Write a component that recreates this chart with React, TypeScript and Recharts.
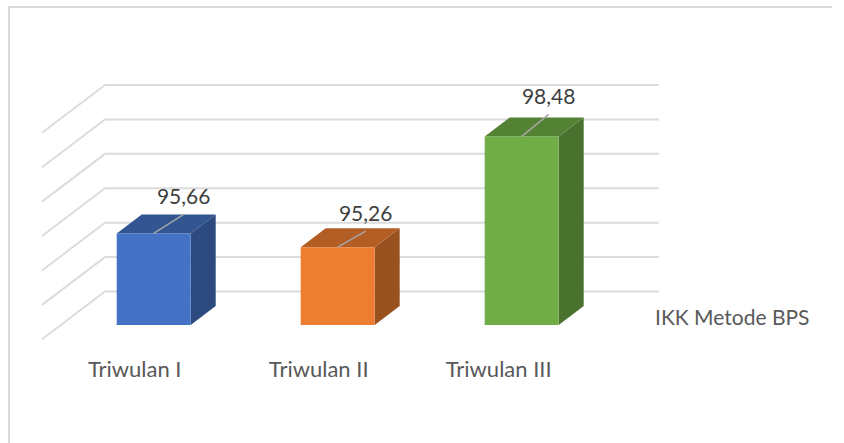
import React from "react";
import { BarChart, Bar, XAxis, YAxis, Legend, LabelList, ReferenceLine } from "recharts";

const categories = ["Triwulan I", "Triwulan II", "Triwulan III"];
const values = [95.66, 95.26, 98.48];
const gridTicks = [93, 94, 95, 96, 97, 98, 99];
const seriesName = "IKK Metode BPS";

const frontColors = ["#4472c4", "#ed7d31", "#70ad47"];
const topColors = ["#335693", "#b25e25", "#548235"];
const sideColors = ["#2c4a7f", "#9a5120", "#49722e"];
// leader line rise above the front top edge, per bar
const leaderEnds = [
  { dx: 30, dy: -19 },
  { dx: 28, dy: -16 },
  { dx: 27, dy: -22 },
];
// category labels sit left of their bars in the original
const tickShifts = [-19, -19, -23];

const data = categories.map((name, i) => ({ name, value: values[i] }));

const FONT = "Lato, 'Open Sans', sans-serif";
const DEPTH_X = 25;
const DEPTH_Y = 19;

// extruded box: front face, top face and right side
const Box3D = (props: any) => {
  const { x, y, width, height, index } = props;
  const r = x + width;
  const b = y + height;
  return (
    <g>
      <polygon
        points={`${r},${y} ${r + DEPTH_X},${y - DEPTH_Y} ${r + DEPTH_X},${b - DEPTH_Y} ${r},${b}`}
        fill={sideColors[index]}
      />
      <polygon
        points={`${x},${y} ${x + DEPTH_X},${y - DEPTH_Y} ${r + DEPTH_X},${y - DEPTH_Y} ${r},${y}`}
        fill={topColors[index]}
      />
      <rect x={x} y={y} width={width} height={height} fill={frontColors[index]} />
    </g>
  );
};

// floor-to-wall gridline: short diagonal on the left, then flat along the back wall
const WallLine = (props: any) => {
  const y = props.y1 ?? props.y;
  return (
    <path
      d={`M42,${y + 14.3} L105,${y - 33.5} L659,${y - 33.5}`}
      fill="none"
      stroke="#dcdcdc"
      strokeWidth={2}
    />
  );
};

const DataLabel = (props: any) => {
  const { x, y, width, value, index } = props;
  const cx = x + width / 2;
  const end = leaderEnds[index];
  return (
    <g>
      <line x1={cx} y1={y} x2={cx + end.dx} y2={y + end.dy} stroke="#a6a6a6" strokeWidth={1.5} />
      <text
        x={cx + end.dx}
        y={y + end.dy - 10}
        textAnchor="middle"
        fontFamily={FONT}
        fontSize={21}
        fill="#404040"
      >
        {value.toFixed(2).replace(".", ",")}
      </text>
    </g>
  );
};

const CategoryTick = ({ x, y, payload, index }: any) => (
  <text
    x={x + tickShifts[index]}
    y={y}
    dy="0.71em"
    textAnchor="middle"
    fontFamily={FONT}
    fontSize={22}
    fill="#595959"
  >
    {payload.value}
  </text>
);

const LegendText = ({ payload }: any) => (
  <span style={{ fontFamily: FONT, fontSize: 21, color: "#595959", whiteSpace: "nowrap" }}>
    {payload?.[0]?.value}
  </span>
);

export default function App() {
  return (
    <div style={{ position: "absolute", left: 0, top: 0, width: 844, height: 443, background: "#fff" }}>
      <div
        style={{
          position: "absolute",
          left: 8,
          top: 6,
          width: 824,
          height: 437,
          borderLeft: "2px solid #d9d9d9",
          borderTop: "2px solid #d9d9d9",
          boxSizing: "border-box",
        }}
      />
      <div style={{ position: "absolute", left: 0, top: 0 }}>
        <BarChart
          width={844}
          height={443}
          data={data}
          margin={{ top: 118.5, right: 230.3, bottom: 0, left: 61.7 }}
        >
          <XAxis
            dataKey="name"
            height={90}
            axisLine={false}
            tickLine={false}
            interval={0}
            tickMargin={30}
            tick={<CategoryTick />}
          />
          <YAxis hide domain={[93, 99]} ticks={gridTicks} />
          {gridTicks.map((t) => (
            <ReferenceLine key={t} y={t} ifOverflow="visible" zIndex={-100} shape={<WallLine />} />
          ))}
          <Bar
            dataKey="value"
            name={seriesName}
            barSize={74}
            shape={<Box3D />}
            isAnimationActive={false}
          >
            <LabelList dataKey="value" content={<DataLabel />} />
          </Bar>
          <Legend
            layout="horizontal"
            content={<LegendText />}
            wrapperStyle={{ position: "absolute", left: 655, top: 304, width: 170, height: 28 }}
          />
        </BarChart>
      </div>
    </div>
  );
}
